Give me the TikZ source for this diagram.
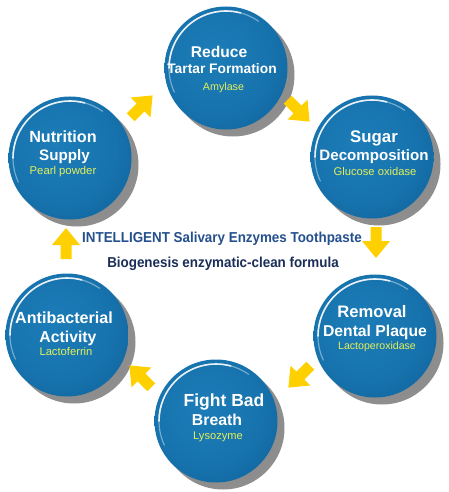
\documentclass[tikz,border=0pt]{standalone}
\usepackage{fontspec}
\setmainfont{Liberation Sans}
\newfontfamily\narrowsans[FakeStretch=0.93]{Liberation Sans}
\definecolor{arrowyellow}{RGB}{255,208,0}
\definecolor{subyellow}{RGB}{228,240,90}
\definecolor{lineone}{RGB}{36,80,142}
\definecolor{linetwo}{RGB}{27,46,88}
\pgfdeclareradialshading{ballshade}{\pgfpoint{-6bp}{6bp}}{rgb(0bp)=(0.11,0.49,0.72); rgb(22bp)=(0.09,0.45,0.68); rgb(38bp)=(0.06,0.38,0.60); rgb(46bp)=(0.04,0.31,0.51); rgb(51bp)=(0.02,0.25,0.42); rgb(60bp)=(0.02,0.25,0.42)}
\pgfdeclareradialshading{shadowshade}{\pgfpoint{0bp}{0bp}}{rgb(0bp)=(0.52,0.52,0.52); rgb(40bp)=(0.58,0.58,0.58); rgb(50bp)=(0.80,0.80,0.80)}
\newcommand{\myfs}[1]{\fontsize{#1}{#1}\selectfont}
\begin{document}
\begin{tikzpicture}[x=1pt,y=1pt,
  ball/.style={circle, minimum size=123pt, inner sep=0pt, shading=ballshade},
  ballshadow/.style={circle, minimum size=123pt, inner sep=0pt, shading=shadowshade},
  hl/.style={white, line width=1.6pt, line cap=round, opacity=0.85},
  hlfaint/.style={white, line width=1.2pt, line cap=round, opacity=0.4},
  title/.style={text=white, anchor=base, inner sep=0pt, font=\bfseries},
  sub/.style={text=subyellow, anchor=base, inner sep=0pt},
  blockarrow/.pic={\fill[arrowyellow] (-16,5.5) -- (-2,5.5) -- (-2,14) -- (15,0) -- (-2,-14) -- (-2,-5.5) -- (-16,-5.5) -- cycle;}
]
\useasboundingbox[fill=white] (0,0) rectangle (449,-492);

% shadows
\node[ballshadow, xshift=7pt, yshift=-7pt] (Rsh) at (226,-68) {};
\node[ballshadow, xshift=7pt, yshift=-7pt] (Nsh) at (70,-158) {};
\node[ballshadow, xshift=7pt, yshift=-7pt] (Ssh) at (372,-157) {};
\node[ballshadow, xshift=7pt, yshift=-7pt] (Dsh) at (375,-336) {};
\node[ballshadow, xshift=7pt, yshift=-7pt] (Fsh) at (216,-421) {};
\node[ballshadow, xshift=7pt, yshift=-7pt] (Ash) at (67,-335) {};

% balls
\node[ball] (R) at (226,-68) {};
\node[ball] (N) at (70,-158) {};
\node[ball] (S) at (372,-157) {};
\node[ball] (D) at (375,-336) {};
\node[ball] (F) at (216,-421) {};
\node[ball] (A) at (67,-335) {};

% highlights
\foreach \b in {R,N,S,D,F,A}{
  \draw[hlfaint] ([shift={(55:57pt)}]\b.center) arc[start angle=55, end angle=205, radius=57pt];
  \draw[hl] ([shift={(75:57pt)}]\b.center) arc[start angle=75, end angle=180, radius=57pt];
}

% texts: Reduce
\node[title, font=\bfseries\myfs{15.6}] (R1) at (219,-58) {Reduce};
\node[title, font=\bfseries\myfs{13.8}] (R2) at (222,-74) {Tartar Formation};
\node[sub, font=\myfs{10.7}] (R3) at (223.5,-91) {Amylase};
% Nutrition
\node[title, font=\bfseries\myfs{16.2}] (N1) at (63,-142) {Nutrition};
\node[title, font=\bfseries\myfs{15.2}] (N2) at (64.5,-160) {Supply};
\node[sub, font=\myfs{11.3}] (N3) at (63,-174) {Pearl powder};
% Sugar
\node[title, font=\bfseries\myfs{16.8}] (S1) at (374,-142) {Sugar};
\node[title, font=\bfseries\myfs{15.1}] (S2) at (374,-160) {Decomposition};
\node[sub, font=\myfs{11.2}] (S3) at (375,-175) {Glucose oxidase};
% Removal
\node[title, font=\bfseries\myfs{16.6}] (D1) at (372,-317) {Removal};
\node[title, font=\bfseries\myfs{15.7}] (D2) at (375,-336) {Dental Plaque};
\node[sub, font=\myfs{10.6}] (D3) at (377,-349) {Lactoperoxidase};
% Fight
\node[title, font=\bfseries\myfs{17.5}] (F1) at (224,-406) {Fight Bad};
\node[title, font=\bfseries\myfs{15.8}] (F2) at (217,-425) {Breath};
\node[sub, font=\myfs{11.1}] (F3) at (218,-439) {Lysozyme};
% Antibacterial
\node[title, font=\bfseries\myfs{16.1}] (A1) at (64,-323) {Antibacterial};
\node[title, font=\bfseries\myfs{15.8}] (A2) at (68,-342) {Activity};
\node[sub, font=\myfs{11.2}] (A3) at (66,-355) {Lactoferrin};

% centre text
\node[anchor=base, inner sep=0pt, text=lineone, font=\narrowsans\bfseries\myfs{14.4}] (T1) at (222,-242) {INTELLIGENT Salivary Enzymes Toothpaste};
\node[anchor=base, inner sep=0pt, text=linetwo, font=\narrowsans\bfseries\myfs{14.4}] (T2) at (223,-267) {Biogenesis enzymatic-clean formula};

% arrows
\pic[rotate=45] at (142,-106) {blockarrow};
\pic[rotate=-45] at (299,-111) {blockarrow};
\pic[rotate=-90] at (376,-243) {blockarrow};
\pic[rotate=-135] at (299,-377) {blockarrow};
\pic[rotate=135] at (140,-376) {blockarrow};
\pic[rotate=90] at (66,-243) {blockarrow};
\end{tikzpicture}
\end{document}
